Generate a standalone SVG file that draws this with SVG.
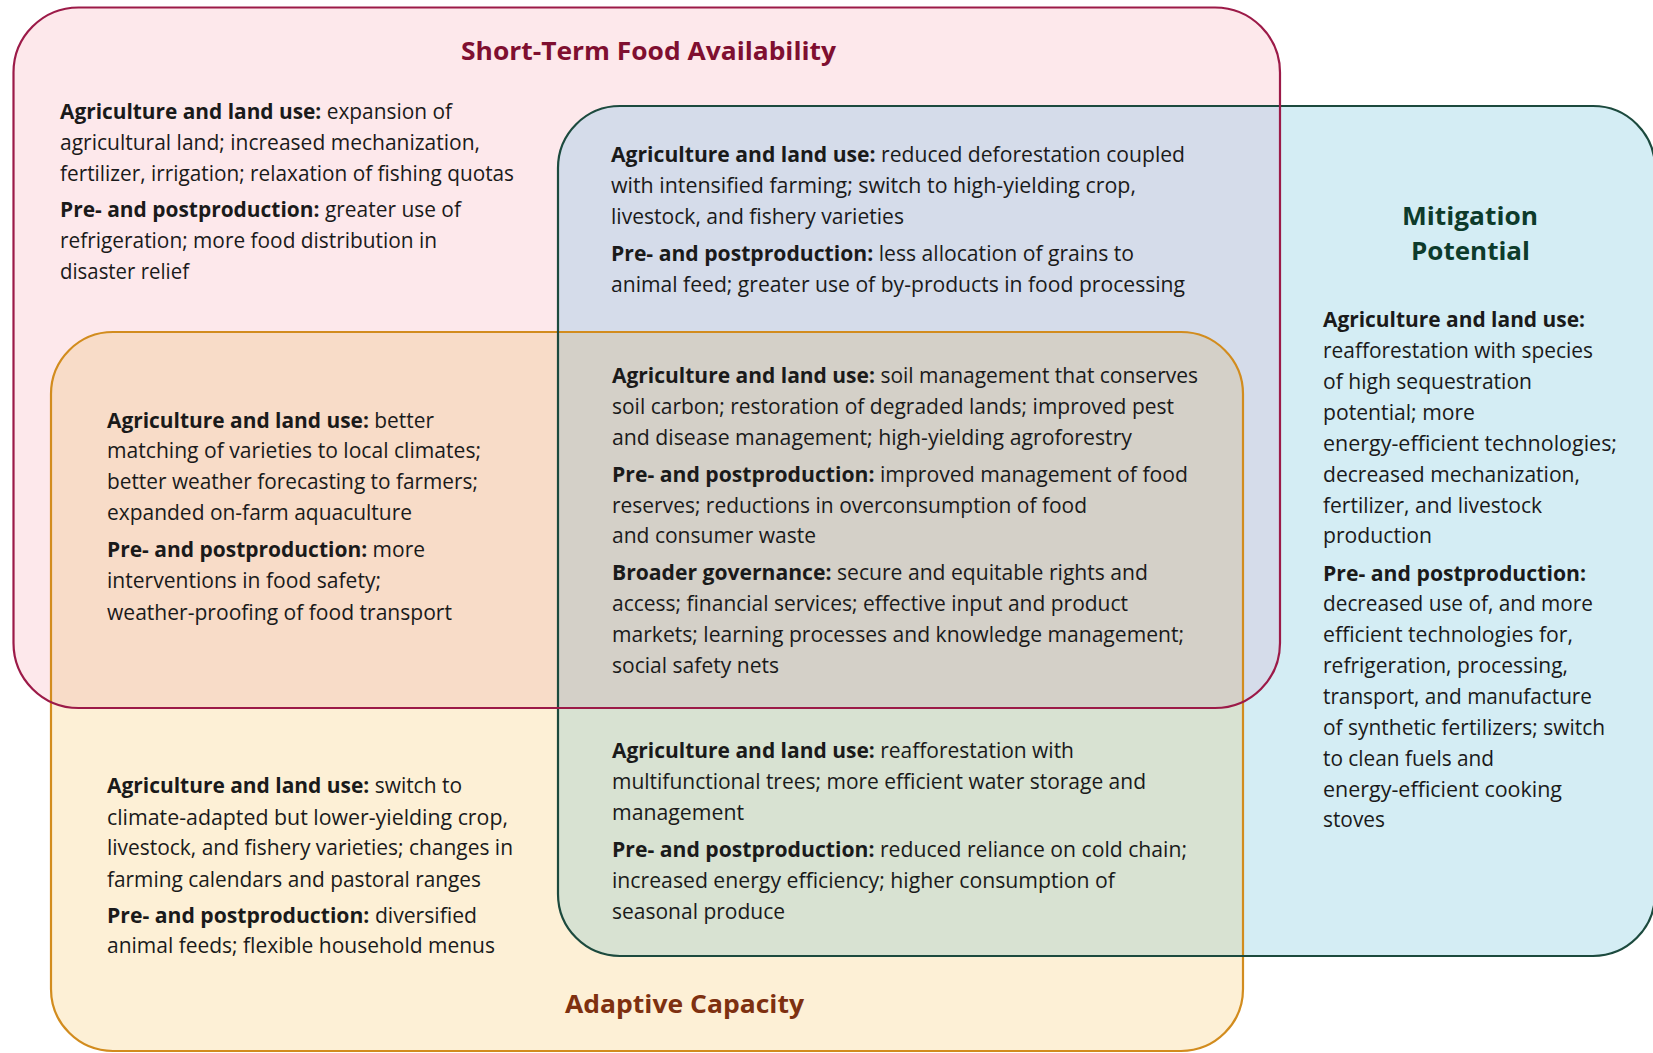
<svg xmlns="http://www.w3.org/2000/svg" width="1653" height="1053" viewBox="0 0 1653 1053">
<style>
.t{font-family:"Open Sans","Liberation Sans",sans-serif;font-size:21px;fill:#1a1a1a}
.b{font-weight:700}
.h{font-family:"Open Sans","Liberation Sans",sans-serif;font-size:25px;font-weight:700}
.edge{fill:none;stroke-width:2.2}
</style>
<defs>
<rect id="rR" x="13.5" y="7.5" width="1266.5" height="700.5" rx="65" ry="65"/>
<rect id="rB" x="558" y="106" width="1097" height="850" rx="62" ry="62"/>
<rect id="rO" x="51" y="332" width="1192" height="719" rx="62" ry="62"/>
<clipPath id="cR"><use href="#rR"/></clipPath>
<clipPath id="cB"><use href="#rB"/></clipPath>
</defs>
<rect width="1653" height="1053" fill="#ffffff"/>
<g id="fills">
<use href="#rR" fill="#fde8eb"/>
<use href="#rB" fill="#d4edf4"/>
<g clip-path="url(#cR)"><use href="#rB" fill="#d5dcea"/></g>
<use href="#rO" fill="#fdf0d6"/>
<g clip-path="url(#cR)"><use href="#rO" fill="#f8dcc8"/></g>
<g clip-path="url(#cB)"><use href="#rO" fill="#d8e2d2"/></g>
<g clip-path="url(#cR)"><g clip-path="url(#cB)"><use href="#rO" fill="#d4d0c8"/></g></g>
</g>
<g id="outlines">
<use href="#rO" class="edge" stroke="#d28c1e"/>
<use href="#rB" class="edge" stroke="#1c4a3e"/>
<use href="#rR" class="edge" stroke="#9c1a48"/>
</g>
<g id="connectors"/>

<g id="short-term">
<text class="h" x="461" y="60" textLength="375" lengthAdjust="spacingAndGlyphs" fill="#7f0f30">Short-Term Food Availability</text>
<text class="t" x="60" y="119" textLength="392" lengthAdjust="spacingAndGlyphs"><tspan class="b">Agriculture and land use:</tspan> expansion of</text>
<text class="t" x="60" y="150" textLength="420" lengthAdjust="spacingAndGlyphs">agricultural land; increased mechanization,</text>
<text class="t" x="60" y="181" textLength="454" lengthAdjust="spacingAndGlyphs">fertilizer, irrigation; relaxation of fishing quotas</text>
<text class="t" x="60" y="217" textLength="401" lengthAdjust="spacingAndGlyphs"><tspan class="b">Pre- and postproduction:</tspan> greater use of</text>
<text class="t" x="60" y="248" textLength="377" lengthAdjust="spacingAndGlyphs">refrigeration; more food distribution in</text>
<text class="t" x="60" y="279" textLength="129" lengthAdjust="spacingAndGlyphs">disaster relief</text>
</g>

<g id="short-term-mitigation">
<text class="t" x="611" y="162" textLength="574" lengthAdjust="spacingAndGlyphs"><tspan class="b">Agriculture and land use:</tspan> reduced deforestation coupled</text>
<text class="t" x="611" y="193" textLength="525" lengthAdjust="spacingAndGlyphs">with intensified farming; switch to high-yielding crop,</text>
<text class="t" x="611" y="224" textLength="293" lengthAdjust="spacingAndGlyphs">livestock, and fishery varieties</text>
<text class="t" x="611" y="261" textLength="523" lengthAdjust="spacingAndGlyphs"><tspan class="b">Pre- and postproduction:</tspan> less allocation of grains to</text>
<text class="t" x="611" y="292" textLength="574" lengthAdjust="spacingAndGlyphs">animal feed; greater use of by-products in food processing</text>
</g>

<g id="all-three">
<text class="t" x="612" y="383" textLength="586" lengthAdjust="spacingAndGlyphs"><tspan class="b">Agriculture and land use:</tspan> soil management that conserves</text>
<text class="t" x="612" y="414" textLength="562" lengthAdjust="spacingAndGlyphs">soil carbon; restoration of degraded lands; improved pest</text>
<text class="t" x="612" y="445" textLength="520" lengthAdjust="spacingAndGlyphs">and disease management; high-yielding agroforestry</text>
<text class="t" x="612" y="482" textLength="576" lengthAdjust="spacingAndGlyphs"><tspan class="b">Pre- and postproduction:</tspan> improved management of food</text>
<text class="t" x="612" y="513" textLength="475" lengthAdjust="spacingAndGlyphs">reserves; reductions in overconsumption of food</text>
<text class="t" x="612" y="543" textLength="204" lengthAdjust="spacingAndGlyphs">and consumer waste</text>
<text class="t" x="612" y="580" textLength="536" lengthAdjust="spacingAndGlyphs"><tspan class="b">Broader governance:</tspan> secure and equitable rights and</text>
<text class="t" x="612" y="611" textLength="516" lengthAdjust="spacingAndGlyphs">access; financial services; effective input and product</text>
<text class="t" x="612" y="642" textLength="572" lengthAdjust="spacingAndGlyphs">markets; learning processes and knowledge management;</text>
<text class="t" x="612" y="673" textLength="167" lengthAdjust="spacingAndGlyphs">social safety nets</text>
</g>

<g id="short-term-adaptive">
<text class="t" x="107" y="428" textLength="327" lengthAdjust="spacingAndGlyphs"><tspan class="b">Agriculture and land use:</tspan> better</text>
<text class="t" x="107" y="458" textLength="374" lengthAdjust="spacingAndGlyphs">matching of varieties to local climates;</text>
<text class="t" x="107" y="489" textLength="371" lengthAdjust="spacingAndGlyphs">better weather forecasting to farmers;</text>
<text class="t" x="107" y="520" textLength="305" lengthAdjust="spacingAndGlyphs">expanded on-farm aquaculture</text>
<text class="t" x="107" y="557" textLength="318" lengthAdjust="spacingAndGlyphs"><tspan class="b">Pre- and postproduction:</tspan> more</text>
<text class="t" x="107" y="588" textLength="274" lengthAdjust="spacingAndGlyphs">interventions in food safety;</text>
<text class="t" x="107" y="620" textLength="345" lengthAdjust="spacingAndGlyphs">weather-proofing of food transport</text>
</g>

<g id="adaptive">
<text class="t" x="107" y="793" textLength="355" lengthAdjust="spacingAndGlyphs"><tspan class="b">Agriculture and land use:</tspan> switch to</text>
<text class="t" x="107" y="825" textLength="401" lengthAdjust="spacingAndGlyphs">climate-adapted but lower-yielding crop,</text>
<text class="t" x="107" y="855" textLength="406" lengthAdjust="spacingAndGlyphs">livestock, and fishery varieties; changes in</text>
<text class="t" x="107" y="887" textLength="374" lengthAdjust="spacingAndGlyphs">farming calendars and pastoral ranges</text>
<text class="t" x="107" y="923" textLength="370" lengthAdjust="spacingAndGlyphs"><tspan class="b">Pre- and postproduction:</tspan> diversified</text>
<text class="t" x="107" y="953" textLength="388" lengthAdjust="spacingAndGlyphs">animal feeds; flexible household menus</text>
<text class="h" x="565" y="1013" textLength="239" lengthAdjust="spacingAndGlyphs" fill="#7e3010">Adaptive Capacity</text>
</g>

<g id="adaptive-mitigation">
<text class="t" x="612" y="758" textLength="462" lengthAdjust="spacingAndGlyphs"><tspan class="b">Agriculture and land use:</tspan> reafforestation with</text>
<text class="t" x="612" y="789" textLength="534" lengthAdjust="spacingAndGlyphs">multifunctional trees; more efficient water storage and</text>
<text class="t" x="612" y="820" textLength="132" lengthAdjust="spacingAndGlyphs">management</text>
<text class="t" x="612" y="857" textLength="575" lengthAdjust="spacingAndGlyphs"><tspan class="b">Pre- and postproduction:</tspan> reduced reliance on cold chain;</text>
<text class="t" x="612" y="888" textLength="503" lengthAdjust="spacingAndGlyphs">increased energy efficiency; higher consumption of</text>
<text class="t" x="612" y="919" textLength="173" lengthAdjust="spacingAndGlyphs">seasonal produce</text>
</g>

<g id="mitigation">
<text class="h" x="1402" y="225" textLength="136" lengthAdjust="spacingAndGlyphs" fill="#0d3b2b">Mitigation</text>
<text class="h" x="1411" y="260" textLength="119" lengthAdjust="spacingAndGlyphs" fill="#0d3b2b">Potential</text>
<text class="t b" x="1323" y="327" textLength="262" lengthAdjust="spacingAndGlyphs">Agriculture and land use:</text>
<text class="t" x="1323" y="358" textLength="270" lengthAdjust="spacingAndGlyphs">reafforestation with species</text>
<text class="t" x="1323" y="389" textLength="209" lengthAdjust="spacingAndGlyphs">of high sequestration</text>
<text class="t" x="1323" y="420" textLength="152" lengthAdjust="spacingAndGlyphs">potential; more</text>
<text class="t" x="1323" y="451" textLength="294" lengthAdjust="spacingAndGlyphs">energy-efficient technologies;</text>
<text class="t" x="1323" y="482" textLength="257" lengthAdjust="spacingAndGlyphs">decreased mechanization,</text>
<text class="t" x="1323" y="513" textLength="219" lengthAdjust="spacingAndGlyphs">fertilizer, and livestock</text>
<text class="t" x="1323" y="543" textLength="109" lengthAdjust="spacingAndGlyphs">production</text>
<text class="t b" x="1323" y="581" textLength="263" lengthAdjust="spacingAndGlyphs">Pre- and postproduction:</text>
<text class="t" x="1323" y="611" textLength="270" lengthAdjust="spacingAndGlyphs">decreased use of, and more</text>
<text class="t" x="1323" y="642" textLength="250" lengthAdjust="spacingAndGlyphs">efficient technologies for,</text>
<text class="t" x="1323" y="673" textLength="245" lengthAdjust="spacingAndGlyphs">refrigeration, processing,</text>
<text class="t" x="1323" y="704" textLength="269" lengthAdjust="spacingAndGlyphs">transport, and manufacture</text>
<text class="t" x="1323" y="735" textLength="282" lengthAdjust="spacingAndGlyphs">of synthetic fertilizers; switch</text>
<text class="t" x="1323" y="766" textLength="171" lengthAdjust="spacingAndGlyphs">to clean fuels and</text>
<text class="t" x="1323" y="797" textLength="239" lengthAdjust="spacingAndGlyphs">energy-efficient cooking</text>
<text class="t" x="1323" y="827" textLength="62" lengthAdjust="spacingAndGlyphs">stoves</text>
</g>
</svg>
